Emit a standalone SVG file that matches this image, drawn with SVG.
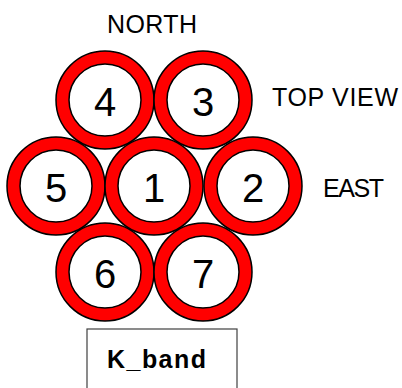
<svg xmlns="http://www.w3.org/2000/svg" width="402" height="388" viewBox="0 0 402 388">
<style>
.outer{fill:#ff0000;stroke:#000;stroke-width:1.5}
.inner{fill:#fff;stroke:#000;stroke-width:1.5}
.num{font-family:"Liberation Sans",Arial,sans-serif;font-size:40px;fill:#000;text-anchor:middle}
.lbl{font-family:"Liberation Sans",Arial,sans-serif;font-size:25px;fill:#000}
.box{fill:#fff;stroke:#404040;stroke-width:1.2}
.bold{font-family:"Liberation Sans",Arial,sans-serif;font-size:25px;font-weight:bold;fill:#000}
</style>
<rect width="402" height="388" fill="#fff"/>
<g id="connectors"></g>
<text class="lbl" x="107" y="33" textLength="90">NORTH</text>
<text class="lbl" x="272" y="106" textLength="126">TOP VIEW</text>
<text class="lbl" x="323" y="197" textLength="61">EAST</text>
<g id="n4"><circle class="outer" cx="105" cy="100" r="49"/><circle class="inner" cx="105" cy="100" r="36"/><text class="num" x="105" y="116">4</text></g>
<g id="n3"><circle class="outer" cx="203" cy="100" r="49"/><circle class="inner" cx="203" cy="100" r="36"/><text class="num" x="203" y="116">3</text></g>
<g id="n5"><circle class="outer" cx="56" cy="186" r="49"/><circle class="inner" cx="56" cy="186" r="36"/><text class="num" x="56" y="202">5</text></g>
<g id="n1"><circle class="outer" cx="154" cy="186" r="49"/><circle class="inner" cx="154" cy="186" r="36"/><text class="num" x="154" y="202">1</text></g>
<g id="n2"><circle class="outer" cx="253" cy="186" r="49"/><circle class="inner" cx="253" cy="186" r="36"/><text class="num" x="253" y="202">2</text></g>
<g id="n6"><circle class="outer" cx="105" cy="272" r="49"/><circle class="inner" cx="105" cy="272" r="36"/><text class="num" x="105" y="288">6</text></g>
<g id="n7"><circle class="outer" cx="203" cy="272" r="49"/><circle class="inner" cx="203" cy="272" r="36"/><text class="num" x="203" y="288">7</text></g>
<g id="kband"><rect class="box" x="87" y="329" width="150" height="70"/><text class="bold" x="107" y="368" textLength="99">K_band</text></g>
</svg>
